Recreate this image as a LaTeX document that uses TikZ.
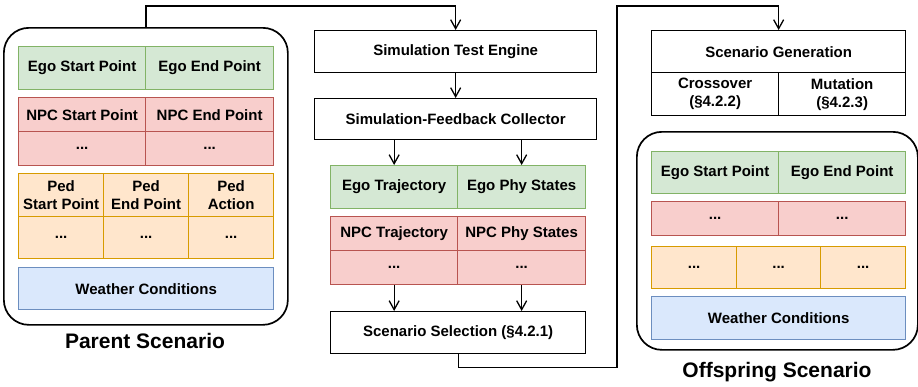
\documentclass[tikz,border=0pt]{standalone}
\usepackage{fontspec}
\setmainfont{Liberation Sans}
\usetikzlibrary{arrows.meta}

% draw.io colours
\definecolor{greenF}{HTML}{D5E8D4}\definecolor{greenD}{HTML}{82B366}
\definecolor{redF}{HTML}{F8CECC}\definecolor{redD}{HTML}{B85450}
\definecolor{orangeF}{HTML}{FFE6CC}\definecolor{orangeD}{HTML}{D79B00}
\definecolor{blueF}{HTML}{DAE8FC}\definecolor{blueD}{HTML}{6C8EBF}

\tikzset{
	cell/.style={draw, line width=1.3pt, anchor=north west, inner sep=0pt, align=center,
		font=\bfseries\fontsize{15}{18}\selectfont},
	greencell/.style={cell, draw=greenD, fill=greenF},
	redcell/.style={cell, draw=redD, fill=redF},
	orangecell/.style={cell, draw=orangeD, fill=orangeF},
	bluecell/.style={cell, draw=blueD, fill=blueF},
	plaincell/.style={cell, draw=black, fill=white},
	outer/.style={draw, line width=1.7pt, rounded corners=25pt, anchor=north west, inner sep=0pt},
	title/.style={font=\bfseries\fontsize{21}{24}\selectfont},
	arr/.style={-{Straight Barb[length=9pt,width=10pt]}, line width=1.3pt},
}

\begin{document}
\begin{tikzpicture}[x=1pt, y=-1pt]
	\useasboundingbox (0,0) rectangle (918,386);
	
	% Parent scenario
	\node[outer, minimum width=284, minimum height=297] (parent) at (3,27) {};
	\node[greencell, minimum width=127, minimum height=43] (egoS) at (18,46) {Ego Start Point};
	\node[greencell, minimum width=128, minimum height=43] (egoE) at (145,46) {Ego End Point};
	\node[redcell, minimum width=127, minimum height=34] (npcS) at (18,97) {NPC Start Point};
	\node[redcell, minimum width=128, minimum height=34] (npcE) at (145,97) {NPC End Point};
	\node[redcell, minimum width=127, minimum height=34] (npcD1) at (18,131) {...};
	\node[redcell, minimum width=128, minimum height=34] (npcD2) at (145,131) {...};
	\node[orangecell, minimum width=85, minimum height=43] (pedS) at (18,173) {Ped\\Start Point};
	\node[orangecell, minimum width=85, minimum height=43] (pedE) at (103,173) {Ped\\End Point};
	\node[orangecell, minimum width=85, minimum height=43] (pedA) at (188,173) {Ped\\Action};
	\foreach \i/\x in {1/18, 2/103, 3/188} {
		\node[orangecell, minimum width=85, minimum height=42] (pedD\i) at (\x,216) {...};
	}
	\node[bluecell, minimum width=255, minimum height=42] (weather) at (18,267) {Weather Conditions};
	\node[title] (parentLabel) at (145,341) {Parent Scenario};
	
	% Simulation column
	\node[plaincell, minimum width=282, minimum height=42] (engine) at (314,30) {Simulation Test Engine};
	\node[plaincell, minimum width=282, minimum height=41] (collector) at (314,98) {Simulation-Feedback Collector};
	\node[greencell, minimum width=127, minimum height=43] (egoTraj) at (330,165) {Ego Trajectory};
	\node[greencell, minimum width=128, minimum height=43] (egoPhy) at (457,165) {Ego Phy States};
	\node[redcell, minimum width=127, minimum height=34] (npcTraj) at (330,216) {NPC Trajectory};
	\node[redcell, minimum width=128, minimum height=34] (npcPhy) at (457,216) {NPC Phy States};
	\node[redcell, minimum width=127, minimum height=34] (fbD1) at (330,250) {...};
	\node[redcell, minimum width=128, minimum height=34] (fbD2) at (457,250) {...};
	\node[plaincell, minimum width=255, minimum height=42] (select) at (330,311) {Scenario Selection (§4.2.1)};
	
	% Generation column
	\node[plaincell, minimum width=254, minimum height=42] (gen) at (651,30) {Scenario Generation};
	\node[plaincell, minimum width=127, minimum height=43] (cross) at (651,72) {Crossover\\(§4.2.2)};
	\node[plaincell, minimum width=127, minimum height=43] (mut) at (778,72) {Mutation\\(§4.2.3)};
	
	% Offspring scenario
	\node[outer, minimum width=281, minimum height=218] (offspring) at (636,131) {};
	\node[greencell, minimum width=127, minimum height=42] (oEgoS) at (651,151) {Ego Start Point};
	\node[greencell, minimum width=127, minimum height=42] (oEgoE) at (778,151) {Ego End Point};
	\node[redcell, minimum width=127, minimum height=34] (oNpc1) at (651,201) {...};
	\node[redcell, minimum width=127, minimum height=34] (oNpc2) at (778,201) {...};
	\foreach \i/\x/\w in {1/651/85, 2/736/84, 3/820/85} {
		\node[orangecell, minimum width=\w, minimum height=42] (oPed\i) at (\x,246) {...};
	}
	\node[bluecell, minimum width=254, minimum height=43] (oWeather) at (651,296) {Weather Conditions};
	\node[title] (offspringLabel) at (777,372) {Offspring Scenario};
	
	% Connectors
	\draw[arr] (parent.north) -- ++(0,-21) -| (engine.north);
	\draw[arr] (engine.south) -- (collector.north);
	\draw[arr] (egoTraj.north |- collector.south) -- (egoTraj.north);
	\draw[arr] (egoPhy.north |- collector.south) -- (egoPhy.north);
	\draw[arr] (fbD1.south) -- (fbD1.south |- select.north);
	\draw[arr] (fbD2.south) -- (fbD2.south |- select.north);
	\draw[arr] (select.south) -- ++(0,13) -| (617,6) -| (gen.north);
	
\end{tikzpicture}
\end{document}
